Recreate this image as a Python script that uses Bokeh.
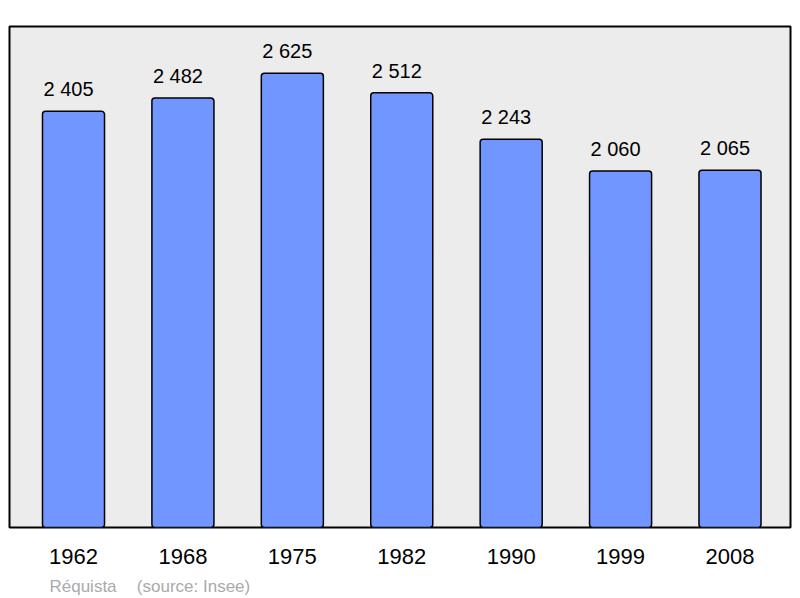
from bokeh.plotting import figure
from bokeh.models import Range1d, FixedTicker, LinearAxis, ColumnDataSource
from bokeh.core.properties import value
from bokeh.embed import file_html
from bokeh.resources import INLINE

years = ["1962", "1968", "1975", "1982", "1990", "1999", "2008"]
population = [2405, 2482, 2625, 2512, 2243, 2060, 2065]
value_labels = ["2 405", "2 482", "2 625", "2 512", "2 243", "2 060", "2 065"]
commune = "Réquista"
source_note = "(source: Insee)"

xs = list(range(len(years)))
src = ColumnDataSource(dict(x=xs, top=population, lab=value_labels))

p = figure(width=800, height=598, output_backend="svg", toolbar_location=None,
           x_range=Range1d(-0.585, 6.553), y_range=Range1d(0, 2895),
           min_border_left=9, min_border_right=10, min_border_top=26, min_border_bottom=70)
p.background_fill_color = "#ececec"
p.border_fill_color = "white"
p.outline_line_color = "black"
p.outline_line_width = 2
p.grid.visible = False
p.yaxis.visible = False

p.vbar(x="x", top="top", bottom=0, width=0.567, source=src,
       fill_color="#7196ff", line_color="black", line_width=1.5, border_radius=3)
p.text(x="x", y="top", text="lab", source=src, x_offset=-5, y_offset=-22,
       text_align="center", text_baseline="alphabetic",
       text_font=value("Liberation Sans"), text_font_size="20px", text_color="black")

ax = p.xaxis[0]
ax.ticker = FixedTicker(ticks=xs)
ax.major_label_overrides = {i: y for i, y in enumerate(years)}
ax.axis_line_color = None
ax.major_tick_line_color = None
ax.minor_tick_line_color = None
ax.major_label_text_font = "Liberation Sans"
ax.major_label_text_font_size = "22px"
ax.major_label_text_color = "black"
ax.major_label_standoff = 15

# source line, placed on its own axis under the year labels
note_pos = [0.087, 1.097]
note_ax = LinearAxis(ticker=FixedTicker(ticks=note_pos),
                     major_label_overrides={note_pos[0]: commune, note_pos[1]: source_note},
                     axis_line_color=None, major_tick_line_color=None, minor_tick_line_color=None,
                     major_label_text_font="Liberation Sans", major_label_text_font_size="17px",
                     major_label_text_color="#aaaaaa", major_label_standoff=4)
p.add_layout(note_ax, "below")

open("out.html", "w").write(file_html(p, INLINE))
